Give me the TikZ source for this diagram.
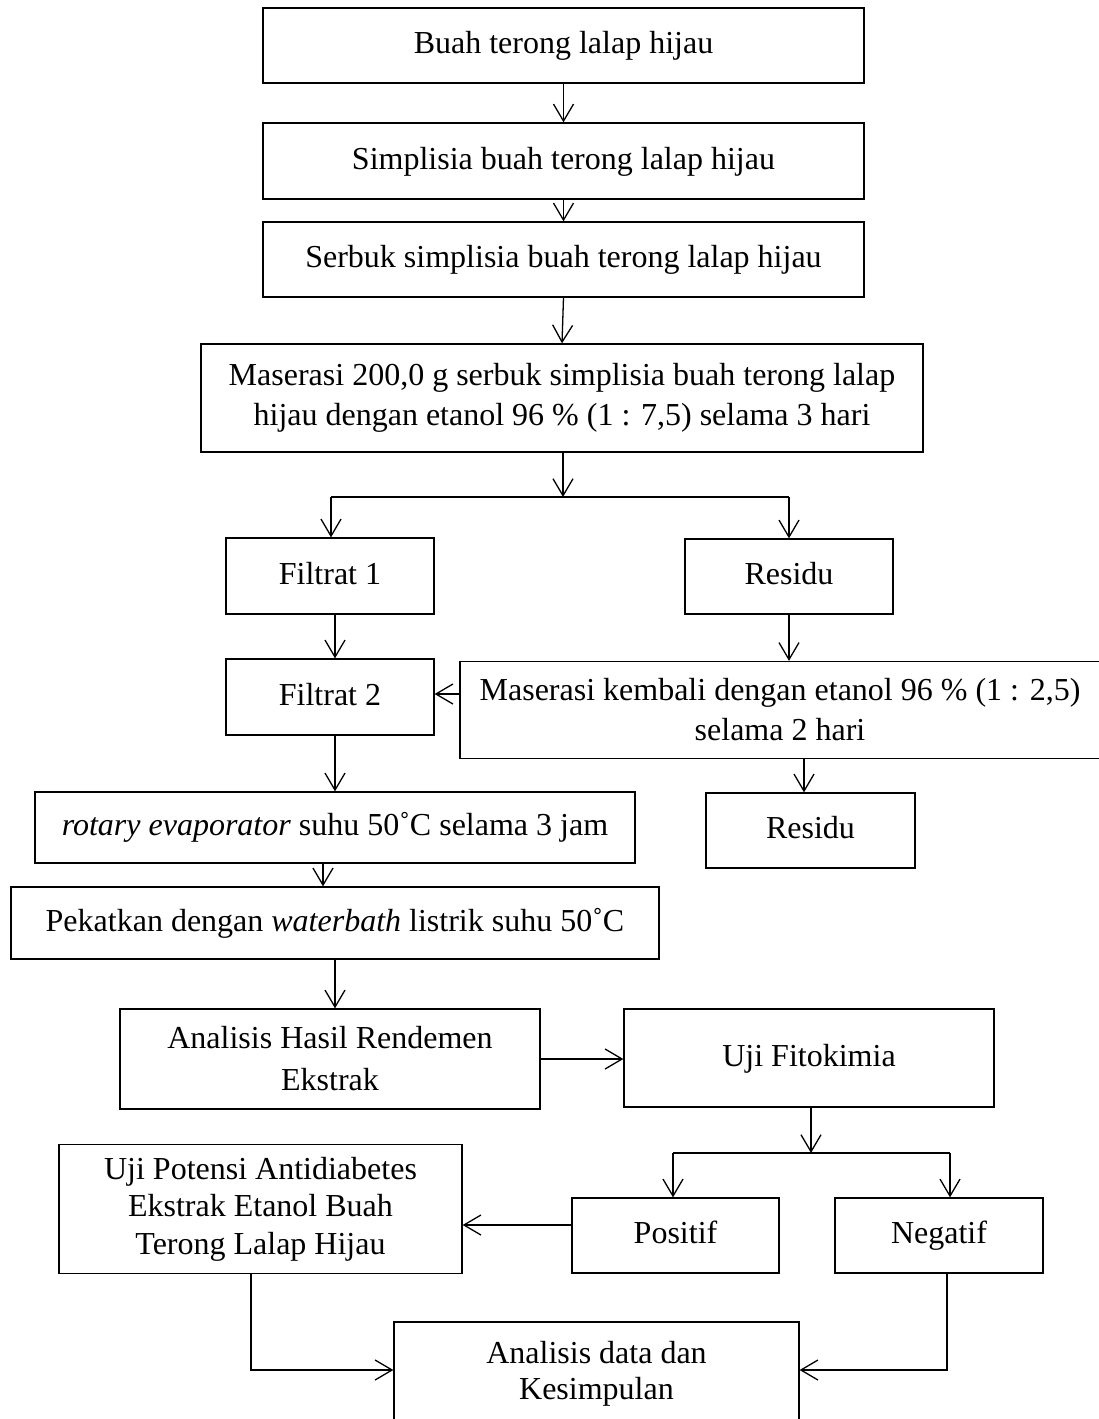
\documentclass[tikz,border=0pt]{standalone}
\usepackage{fontspec}
\setmainfont{Liberation Serif}
\usetikzlibrary{arrows.meta}
\tikzset{
  box/.style={draw, rectangle, line width=1.3pt, inner sep=0pt, align=center,
              font=\fontsize{32}{40}\selectfont},
  arr/.style={line width=1.3pt, -{Straight Barb[length=17pt,width=20pt,line width=1.3pt]}},
  bar/.style={line width=2.2pt}
}
\begin{document}
\begin{tikzpicture}[x=1pt,y=-1pt]
\fill[white] (0,0) rectangle (1099,1419);
\useasboundingbox (0,0) rectangle (1099,1419);
\clip (0,0) rectangle (1099,1419);

\node[box, minimum width=601pt, minimum height=75pt] (b1) at (563.5,45.5) {\strut Buah terong lalap hijau};
\node[box, minimum width=601pt, minimum height=76pt] (b2) at (563.5,161) {\strut Simplisia buah terong lalap hijau};
\node[box, minimum width=601pt, minimum height=75pt] (b3) at (563.5,259.5) {\strut Serbuk simplisia buah terong lalap hijau};
\node[box, minimum width=722pt, minimum height=108pt] (b4) at (562,398) {Maserasi 200,0 g serbuk simplisia buah terong lalap\\hijau dengan etanol 96 \%  (1 : 7,5) selama 3 hari};
\node[box, minimum width=208pt, minimum height=76pt] (f1) at (330,576) {\strut Filtrat 1};
\node[box, minimum width=208pt, minimum height=75pt] (r1) at (789,576.5) {\strut Residu};
\node[box, minimum width=208pt, minimum height=76pt] (f2) at (330,697) {\strut Filtrat 2};
\node[box, minimum width=640pt, minimum height=97pt] (mk) at (780,710) {Maserasi kembali dengan etanol 96 \%  (1 : 2,5)\\selama 2 hari};
\node[box, minimum width=209pt, minimum height=75pt] (r2) at (810.5,830.5) {\strut Residu};
\node[box, minimum width=600pt, minimum height=71pt] (rot) at (335,827.5) {\strut\textit{rotary evaporator} suhu 50˚C selama 3 jam};
\node[box, minimum width=648pt, minimum height=72pt] (pek) at (335,923) {\strut Pekatkan dengan \textit{waterbath} listrik suhu 50˚C};
\node[box, minimum width=420pt, minimum height=100pt, font=\fontsize{32}{42}\selectfont] (ahr) at (330,1059) {Analisis Hasil Rendemen\\Ekstrak};
\node[box, minimum width=370pt, minimum height=98pt] (uf) at (809,1058) {\strut Uji Fitokimia};
\node[box, minimum width=207pt, minimum height=75pt] (pos) at (675.5,1235.5) {\strut Positif};
\node[box, minimum width=208pt, minimum height=75pt] (neg) at (939,1235.5) {\strut Negatif};
\node[box, minimum width=403pt, minimum height=129pt, font=\fontsize{32}{37.5}\selectfont] (up) at (260.5,1209) {Uji Potensi Antidiabetes\\Ekstrak Etanol Buah\\Terong Lalap Hijau};
\node[box, minimum width=405pt, minimum height=103pt, font=\fontsize{32}{36}\selectfont] (ad) at (596.5,1373.5) {Analisis data dan\\Kesimpulan};

\coordinate (j1) at (563,497);
\coordinate (j1l) at (331,497);
\coordinate (j1r) at (789,497);
\coordinate (j2) at (811,1153);
\coordinate (j2l) at (673,1153);
\coordinate (j2r) at (950,1153);

\draw[arr] (b1.south) -- (b2.north);
\draw[arr] (b2.south) -- (b3.north);
\draw[arr] (b3.south) -- (b4.north);
\draw[arr] (b4.south -| j1) -- (j1);
\draw[bar] (j1l) -- (j1r);
\draw[arr] (j1l) -- (j1l |- f1.north);
\draw[arr] (j1r) -- (j1r |- r1.north);
\draw[arr] (335,0 |- f1.south) -- (335,0 |- f2.north);
\draw[arr] (r1.south) -- (r1.south |- mk.north);
\draw[arr] (mk.west |- 0,694) -- (f2.east |- 0,694);
\draw[arr] (804,0 |- mk.south) -- (804,0 |- r2.north);
\draw[arr] (335,0 |- f2.south) -- (rot.north);
\draw[arr] (323,0 |- rot.south) -- (323,0 |- pek.north);
\draw[arr] (pek.south) -- (pek.south |- ahr.north);
\draw[arr] (ahr.east) -- (ahr.east -| uf.west);
\draw[arr] (j2 |- uf.south) -- (j2);
\draw[bar] (j2l) -- (j2r);
\draw[arr] (j2l) -- (j2l |- pos.north);
\draw[arr] (j2r) -- (j2r |- neg.north);
\draw[arr] (pos.west |- 0,1225) -- (up.east |- 0,1225);
\draw[arr] (251,0 |- up.south) |- (ad.west |- 0,1370);
\draw[arr] (947,0 |- neg.south) |- (ad.east |- 0,1370);
\end{tikzpicture}
\end{document}
